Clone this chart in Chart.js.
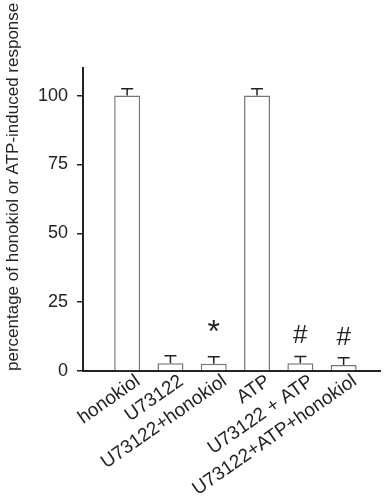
<!DOCTYPE html>
<html lang="en">
<head>
  <meta charset="UTF-8">
  <title>honokiol response</title>
  <script src="https://cdn.jsdelivr.net/npm/chart.js"></script>
  <style>
    html, body { margin: 0; padding: 0; background: #fff; }
    #wrap { width: 384px; height: 504px; }
  </style>
</head>
<body>
  <div id="wrap">
    <canvas id="myChart" width="384" height="504"></canvas>
  </div>

  <script>
    const labels = ['honokiol', 'U73122', 'U73122+honokiol', 'ATP', 'U73122 + ATP', 'U73122+ATP+honokiol'];
    const values = [100, 2.8, 2.6, 100, 2.8, 2.2];
    const errors = [2.5, 2.7, 2.6, 2.5, 2.5, 2.6];
    const marks = ['', '', '*', '', '#', '#'];
    const yTicks = [0, 25, 50, 75, 100];

    const ink = '#222';
    const font = 'Liberation Sans, Arial, sans-serif';

    // error bars (upper half only) and significance marks
    const extras = {
      id: 'extras',
      afterDatasetsDraw(chart) {
        const c = chart.ctx;
        const y = chart.scales.y;
        const bars = chart.getDatasetMeta(0).data;
        c.save();
        c.strokeStyle = ink;
        c.lineWidth = 1.5;
        c.fillStyle = ink;
        c.textAlign = 'center';
        c.textBaseline = 'alphabetic';
        bars.forEach((bar, i) => {
          const top = y.getPixelForValue(values[i]);
          const end = y.getPixelForValue(values[i] + errors[i]);
          c.beginPath();
          c.moveTo(bar.x, top);
          c.lineTo(bar.x, end);
          c.moveTo(bar.x - 6, end);
          c.lineTo(bar.x + 6, end);
          c.stroke();
          if (marks[i] === '*') {
            c.font = '32px ' + font;
            c.fillText('*', bar.x, end - 15);
          } else if (marks[i]) {
            c.font = '26px ' + font;
            c.fillText(marks[i], bar.x, end - 13);
          }
        });
        c.restore();
      }
    };

    new Chart(document.getElementById('myChart'), {
      type: 'bar',
      data: {
        datasets: [{
          data: values.map((v, i) => ({ x: i, y: v })),
          backgroundColor: '#fff',
          borderColor: '#777',
          borderWidth: 1.5,
          categoryPercentage: 1,
          barPercentage: 0.6
        }]
      },
      options: {
        responsive: false,
        animation: false,
        layout: { padding: { top: 68, right: 4, left: 0, bottom: 0 } },
        plugins: { legend: { display: false }, tooltip: { enabled: false } },
        scales: {
          x: {
            type: 'linear',
            offset: false,
            min: -1.02,
            max: 5.84,
            afterBuildTicks: s => { s.ticks = labels.map((_, i) => ({ value: i })); },
            afterFit: s => { s.height = 133; },
            grid: { display: false, drawTicks: false, offset: false },
            border: { display: true, color: ink, width: 2 },
            ticks: {
              autoSkip: false,
              minRotation: 35,
              maxRotation: 35,
              padding: -1,
              labelOffset: 11,
              color: ink,
              font: { family: font, size: 19 },
              callback: v => labels[v] || ''
            }
          },
          y: {
            min: 0,
            max: 110,
            afterBuildTicks: s => { s.ticks = yTicks.map(v => ({ value: v })); },
            afterFit: s => { s.width = 83; },
            grid: { drawOnChartArea: false, drawTicks: true, tickLength: 6, color: ink, lineWidth: 1.5 },
            border: { display: true, color: ink, width: 2 },
            ticks: {
              padding: 9,
              color: ink,
              font: { family: font, size: 18 }
            },
            title: {
              display: true,
              align: 'start',
              text: 'percentage of honokiol or ATP-induced response',
              color: ink,
              font: { family: font, size: 17 },
              padding: { top: 3, bottom: 0 }
            }
          }
        }
      },
      plugins: [extras]
    });
  </script>
</body>
</html>
